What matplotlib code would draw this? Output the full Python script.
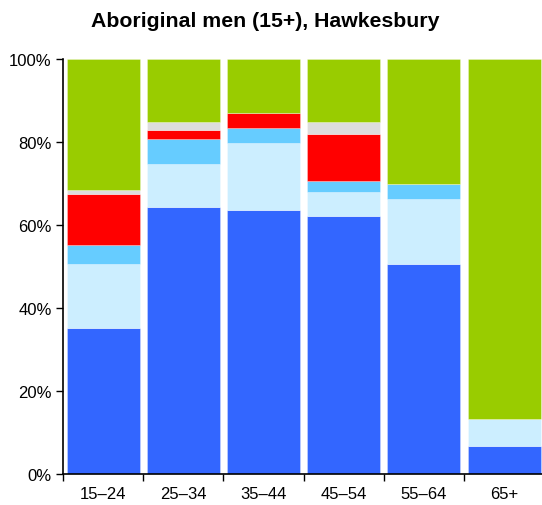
import numpy as np
import matplotlib.pyplot as plt

plt.rcParams['font.family'] = ['Liberation Sans', 'DejaVu Sans']

ages = ['15–24', '25–34', '35–44', '45–54', '55–64', '65+']

# percentages per age group, bottom to top
blue = [35.2, 64.5, 63.6, 62.3, 50.6, 6.7]
light_blue = [15.5, 10.3, 16.3, 5.6, 15.6, 6.6]
sky_blue = [4.6, 6.1, 3.6, 2.8, 3.7, 0.0]
red = [12.1, 2.0, 3.6, 11.3, 0.0, 0.0]
grey = [1.2, 2.1, 0.0, 2.9, 0.0, 0.0]
green = [31.4, 15.0, 12.9, 15.1, 30.1, 86.7]

series = [blue, light_blue, sky_blue, red, grey, green]
colours = ['#3366ff', '#cceeff', '#66ccff', '#ff0000', '#dddddd', '#99cc00']

fig = plt.figure(figsize=(5.42, 5.06), dpi=100)
ax = fig.add_axes([0.1162, 0.0613, 0.888, 0.8195])

x = np.arange(len(ages))
bottom = np.zeros(len(ages))
for vals, col in zip(series, colours):
    vals = np.array(vals)
    ax.bar(x, vals, bottom=bottom, width=0.91, color=col,
           edgecolor=(1, 1, 1, 0.5), linewidth=0.4)
    bottom += vals

ax.set_xlim(-0.5, len(ages) - 0.5)
ax.set_ylim(0, 100)
ax.set_yticks(np.arange(0, 101, 20))
ax.set_yticklabels([f'{v}%' for v in range(0, 101, 20)])
ax.set_xticks(x)
ax.set_xticklabels(ages)
ax.set_xticks(np.arange(-0.5, len(ages), 1), minor=True)
ax.tick_params(axis='x', which='major', length=0, pad=9, labelsize=12)
ax.tick_params(axis='x', which='minor', length=5, width=1)
ax.tick_params(axis='y', length=5, width=1, pad=3, labelsize=12)

for s in ['top', 'right']:
    ax.spines[s].set_visible(False)
for s in ['left', 'bottom']:
    ax.spines[s].set_linewidth(1.2)

fig.text(0.49, 0.957, 'Aboriginal men (15+), Hawkesbury', ha='center',
         va='center', fontsize=15.3, fontweight='bold')

fig.savefig('out.png', dpi=100)
